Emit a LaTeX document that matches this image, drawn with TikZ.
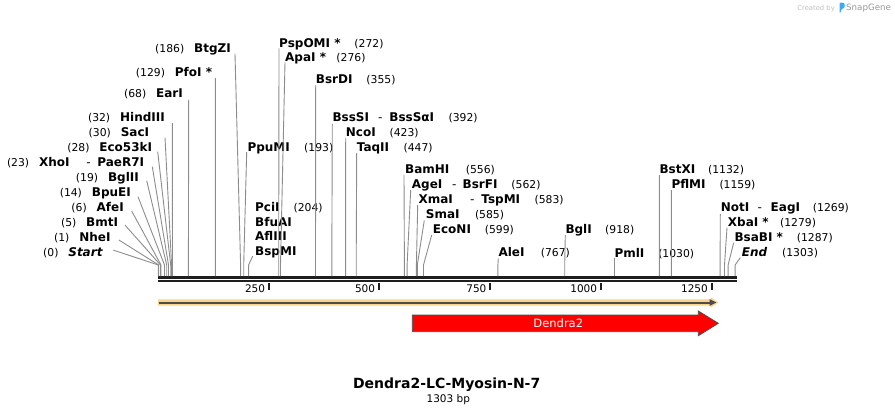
\documentclass[tikz,border=0pt]{standalone}
\usepackage{fontspec}
\setmainfont{DejaVu Sans}
\usepackage{tikz}
\usetikzlibrary{positioning,calc}

\definecolor{sitegray}{HTML}{8C8C8C}
\definecolor{bardark}{HTML}{1E1E1E}
\definecolor{featorange}{HTML}{FAD48B}
\definecolor{featdark}{HTML}{4D4D4D}
\definecolor{logoblue}{HTML}{3FA9F5}

\tikzset{
  enz/.style={font=\fontsize{12}{14}\selectfont\bfseries, inner sep=0pt},
  num/.style={font=\fontsize{10.8}{13}\selectfont, inner sep=0pt},
  ticklbl/.style={font=\fontsize{10.5}{12}\selectfont, inner sep=0pt, anchor=base east},
  site/.style={draw=sitegray, line width=0.9pt,
    to path={-- ([yshift=11pt]\tikztotarget) -- (\tikztotarget)}},
  tickmark/.style={draw=bardark, line width=2pt},
}

\begin{document}
\begin{tikzpicture}[x=1pt,y=-1pt]
\useasboundingbox (0,0) rectangle (895,415);

% cut sites on the sequence
\path (158.3,276) coordinate (s0)    (158.7,276) coordinate (s1)
      (160.5,276) coordinate (s5)    (161.0,276) coordinate (s6)
      (164.5,276) coordinate (s14)   (166.7,276) coordinate (s19)
      (168.5,276) coordinate (s23)   (170.7,276) coordinate (s28)
      (171.6,276) coordinate (s30)   (172.5,276) coordinate (s32)
      (188.4,276) coordinate (s68)   (215.4,276) coordinate (s129)
      (240.6,276) coordinate (s186)  (243.7,276) coordinate (s193)
      (248.6,276) coordinate (s204)  (278.7,276) coordinate (s272)
      (280.5,276) coordinate (s276)  (315.5,276) coordinate (s355)
      (331.8,276) coordinate (s392)  (345.6,276) coordinate (s423)
      (356.2,276) coordinate (s447)  (404.4,276) coordinate (s556)
      (407.1,276) coordinate (s562)  (416.4,276) coordinate (s583)
      (417.3,276) coordinate (s585)  (423.5,276) coordinate (s599)
      (497.9,276) coordinate (s767)  (564.7,276) coordinate (s918)
      (614.3,276) coordinate (s1030) (659.4,276) coordinate (s1132)
      (671.4,276) coordinate (s1159) (720.1,276) coordinate (s1269)
      (724.5,276) coordinate (s1279) (728.1,276) coordinate (s1287)
      (735.1,276) coordinate (s1303);

% sequence bar
\draw[bardark, line width=2.5pt] (158,277.3) -- (736.7,277.3);
\draw[bardark, line width=2.4pt] (158,281.2) -- (736.7,281.2);

% ruler
\draw[tickmark] (269.0,283) -- (269.0,290);
\draw[tickmark] (379.0,283) -- (379.0,290);
\draw[tickmark] (490.3,283) -- (490.3,290);
\draw[tickmark] (601.0,283) -- (601.0,290);
\draw[tickmark] (711.7,283) -- (711.7,290);
\node[ticklbl] (t250) at (265.3,292.6) {250};
\node[ticklbl] (t500) at (375.3,292.6) {500};
\node[ticklbl] (t750) at (486.6,292.6) {750};
\node[ticklbl] (t1000) at (597.3,292.6) {1000};
\node[ticklbl] (t1250) at (708.0,292.6) {1250};

% enzymes, left side
\node[enz, anchor=base east] (btgzi) at (231,52.7) {BtgZI};
\node[num, base left=9.5pt of btgzi] (btgzi-n) {(186)};
\node[enz, anchor=base east] (pfoi) at (212.3,76.1) {PfoI *};
\node[num, base left=9.5pt of pfoi] (pfoi-n) {(129)};
\node[enz, anchor=base east] (eari) at (183,97.7) {EarI};
\node[num, base left=9.5pt of eari] (eari-n) {(68)};
\node[enz, anchor=base east] (hindiii) at (165,121.7) {HindIII};
\node[num, base left=9.5pt of hindiii] (hindiii-n) {(32)};
\node[enz, anchor=base east] (saci) at (149.3,136.1) {SacI};
\node[num, base left=9.5pt of saci] (saci-n) {(30)};
\node[enz, anchor=base east] (eco53ki) at (152.3,151.1) {Eco53kI};
\node[num, base left=9.5pt of eco53ki] (eco53ki-n) {(28)};
\node[enz, anchor=base east] (xhoi) at (144.3,166.1) {XhoI\hspace{16.7pt}{\mdseries -}\hspace{6.7pt}PaeR7I};
\node[num, base left=9.5pt of xhoi] (xhoi-n) {(23)};
\node[enz, anchor=base east] (bglii) at (139,181.1) {BglII};
\node[num, base left=9.5pt of bglii] (bglii-n) {(19)};
\node[enz, anchor=base east] (bpuei) at (131,196.7) {BpuEI};
\node[num, base left=9.5pt of bpuei] (bpuei-n) {(14)};
\node[enz, anchor=base east] (afei) at (124,211.1) {AfeI};
\node[num, base left=9.5pt of afei] (afei-n) {(6)};
\node[enz, anchor=base east] (bmti) at (118.3,226.1) {BmtI};
\node[num, base left=9.5pt of bmti] (bmti-n) {(5)};
\node[enz, anchor=base east] (nhei) at (110.7,241.1) {NheI};
\node[num, base left=9.5pt of nhei] (nhei-n) {(1)};
\node[enz, anchor=base east] (start) at (102.7,256.1) {\itshape Start};
\node[num, base left=9.5pt of start] (start-n) {(0)};

\draw[site] ([xshift=4pt,yshift=-1pt]btgzi.base east) to (s186);
\draw[site] ([xshift=3pt,yshift=-2pt]pfoi.base east) to (s129);
\draw[site] ([xshift=5.7pt,yshift=-2pt]eari.base east) to (s68);
\draw[site] ([xshift=7.3pt,yshift=-1.5pt]hindiii.base east) to (s32);
\draw[site] ([xshift=15.7pt,yshift=-1.5pt]saci.base east) to (s30);
\draw[site] ([xshift=5.4pt,yshift=-0.6pt]eco53ki.base east) to (s28);
\draw[site] ([xshift=8pt,yshift=-0.6pt]xhoi.base east) to (s23);
\draw[site] ([xshift=7.7pt,yshift=0.5pt]bglii.base east) to (s19);
\draw[site] ([xshift=7pt]bpuei.base east) to (s14);
\draw[site] ([xshift=7.7pt]afei.base east) to (s6);
\draw[site] ([xshift=6.7pt,yshift=1pt]bmti.base east) to (s5);
\draw[site] ([xshift=8.3pt,yshift=1pt]nhei.base east) to (s1);
\draw[site] ([xshift=10.6pt,yshift=6pt]start.base east) to (s0);

% enzymes, right side
\node[enz, anchor=base west] (pspomi) at (279,47.1) {PspOMI *};
\node[num, base right=13.5pt of pspomi] (pspomi-n) {(272)};
\node[enz, anchor=base west] (apai) at (285,61.1) {ApaI *};
\node[num, base right=10pt of apai] (apai-n) {(276)};
\node[enz, anchor=base west] (bsrdi) at (315.7,83.7) {BsrDI};
\node[num, base right=13.5pt of bsrdi] (bsrdi-n) {(355)};
\node[enz, anchor=base west] (bsssi) at (332.3,121.7) {BssSI\hspace{9pt}{\mdseries -}\hspace{7pt}BssSαI};
\node[num, base right=14pt of bsssi] (bsssi-n) {(392)};
\node[enz, anchor=base west] (ncoi) at (345.7,136.1) {NcoI};
\node[num, base right=13.5pt of ncoi] (ncoi-n) {(423)};
\node[enz, anchor=base west] (taqii) at (356.7,151.1) {TaqII};
\node[num, base right=14pt of taqii] (taqii-n) {(447)};
\node[enz, anchor=base west] (ppumi) at (247.3,151.1) {PpuMI};
\node[num, base right=14pt of ppumi] (ppumi-n) {(193)};
\node[enz, anchor=base west] (pcii) at (255,211.7) {PciI};
\node[num, base right=13.5pt of pcii] (pcii-n) {(204)};
\node[enz, anchor=base west] (bfuai) at (255,226.1) {BfuAI};
\node[enz, anchor=base west] (afliii) at (255,240.4) {AflIII};
\node[enz, anchor=base west] (bspmi) at (255,255.1) {BspMI};
\node[enz, anchor=base west] (bamhi) at (405,173.4) {BamHI};
\node[num, base right=16pt of bamhi] (bamhi-n) {(556)};
\node[enz, anchor=base west] (agei) at (411.7,188.7) {AgeI\hspace{9.7pt}{\mdseries -}\hspace{6.3pt}BsrFI};
\node[num, base right=13.5pt of agei] (agei-n) {(562)};
\node[enz, anchor=base west] (xmai) at (418.3,203.4) {XmaI\hspace{17.3pt}{\mdseries -}\hspace{7pt}TspMI};
\node[num, base right=14pt of xmai] (xmai-n) {(583)};
\node[enz, anchor=base west] (smai) at (425.7,218.7) {SmaI};
\node[num, base right=15pt of smai] (smai-n) {(585)};
\node[enz, anchor=base west] (econi) at (432.7,233.4) {EcoNI};
\node[num, base right=13.5pt of econi] (econi-n) {(599)};
\node[enz, anchor=base west] (alei) at (498.3,256.7) {AleI};
\node[num, base right=16pt of alei] (alei-n) {(767)};
\node[enz, anchor=base west] (bgli) at (565.3,233.4) {BglI};
\node[num, base right=13pt of bgli] (bgli-n) {(918)};
\node[enz, anchor=base west] (pmli) at (614.3,257.1) {PmlI};
\node[num, base right=13.5pt of pmli] (pmli-n) {(1030)};
\node[enz, anchor=base west] (bstxi) at (659.3,173.4) {BstXI};
\node[num, base right=12.5pt of bstxi] (bstxi-n) {(1132)};
\node[enz, anchor=base west] (pflmi) at (671.3,188.4) {PflMI};
\node[num, base right=13.5pt of pflmi] (pflmi-n) {(1159)};
\node[enz, anchor=base west] (noti) at (720.7,211.7) {NotI\hspace{8.3pt}{\mdseries -}\hspace{8.7pt}EagI};
\node[num, base right=12.5pt of noti] (noti-n) {(1269)};
\node[enz, anchor=base west] (xbai) at (727.7,226.7) {XbaI *};
\node[num, base right=11pt of xbai] (xbai-n) {(1279)};
\node[enz, anchor=base west] (bsabi) at (734.3,241.1) {BsaBI *};
\node[num, base right=13.5pt of bsabi] (bsabi-n) {(1287)};
\node[enz, anchor=base west] (end) at (741.7,256.7) {\itshape End};
\node[num, base right=14.5pt of end] (end-n) {(1303)};

\draw[site] ([yshift=-1.2pt]pspomi.base west) to (s272);
\draw[site] ([yshift=-1.2pt]apai.base west) to (s276);
\draw[site] ([yshift=-1.3pt]bsrdi.base west) to (s355);
\draw[site] ([yshift=-2.3pt]bsssi.base west) to (s392);
\draw[site] ([yshift=-1.9pt]ncoi.base west) to (s423);
\draw[site] ([yshift=-1.9pt]taqii.base west) to (s447);
\draw[site] ([xshift=-0.6pt,yshift=-0.9pt]ppumi.base west) to (s193);
\draw[site] ([xshift=-2.3pt,yshift=-1pt]bspmi.base west) to (s204);
\draw[site] ([xshift=-1pt,yshift=-1.6pt]bamhi.base west) to (s556);
\draw[site] ([xshift=-1pt,yshift=-1.3pt]agei.base west) to (s562);
\draw[site] ([xshift=-0.6pt,yshift=-1.6pt]xmai.base west) to (s583);
\draw[site] ([xshift=-1.4pt,yshift=-1.6pt]smai.base west) to (s585);
\draw[site] ([xshift=-1pt,yshift=-1.6pt]econi.base west) to (s599);
\draw[site] ([yshift=-1.6pt]alei.base west) to (s767);
\draw[site] ([yshift=-1.6pt]bgli.base west) to (s918);
\draw[site] ([yshift=-0.6pt]pmli.base west) to (s1030);
\draw[site] ([yshift=-1.6pt]bstxi.base west) to (s1132);
\draw[site] ([yshift=-1.6pt]pflmi.base west) to (s1159);
\draw[site] ([xshift=-0.4pt,yshift=-2.3pt]noti.base west) to (s1269);
\draw[site] ([xshift=-0.7pt,yshift=-1pt]xbai.base west) to (s1279);
\draw[site] ([xshift=-0.6pt,yshift=-1.6pt]bsabi.base west) to (s1287);
\draw[site] ([xshift=-1.4pt,yshift=-1pt]end.base west) to (s1303);

% features
\fill[featorange] (158,299.3) -- (710.7,299.3) -- (710.7,297.3) -- (718.3,302.5)
  -- (710.7,307.7) -- (710.7,305.7) -- (158,305.7) -- cycle;
\draw[featdark, line width=2pt] (158.5,302.5) -- (711,302.5);
\fill[featdark] (709.5,299) -- (716.3,302.5) -- (709.5,306) -- cycle;

\draw[fill=red, draw=featdark, line width=0.8pt] (412.3,315) -- (698.3,315) -- (698.3,311)
  -- (718.3,323.3) -- (698.3,335.7) -- (698.3,331.7) -- (412.3,331.7) -- cycle;
\node[text=white, font=\fontsize{11.5}{13}\selectfont, inner sep=0pt] (dendra) at (558.3,323.3) {Dendra2};

% title
\node[font=\fontsize{14}{16}\selectfont\bfseries, inner sep=0pt] (title) at (446.7,385) {Dendra2-LC-Myosin-N-7};
\node[font=\fontsize{10.5}{12}\selectfont, inner sep=0pt] (size) at (448.3,399.3) {1303 bp};

% credit
\node[font=\fontsize{6.8}{8}\selectfont, text=black!25, inner sep=0pt, anchor=base east] (createdby) at (835,10) {Created by};
\fill[logoblue, rounded corners=1pt] (839.5,2.5) -- (844.5,3) -- (844.5,8) -- (841.5,9) -- (840.5,12.5) -- (839.5,12.5) -- cycle;
\node[font=\fontsize{8.7}{10}\selectfont, text=black!40, inner sep=0pt, anchor=base west] (snapgene) at (846,10.5) {SnapGene};
\end{tikzpicture}
\end{document}
